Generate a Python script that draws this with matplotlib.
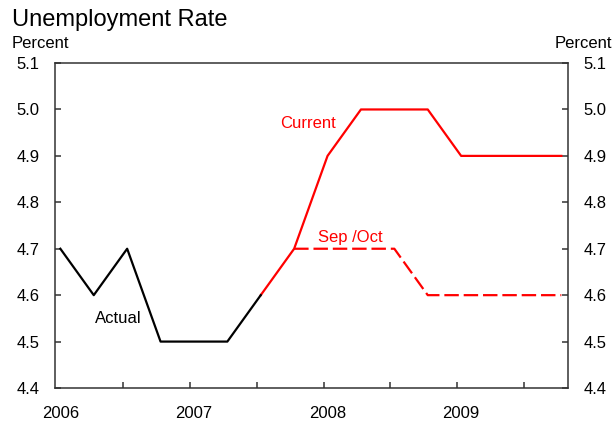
import numpy as np
import matplotlib
matplotlib.use("Agg")
import matplotlib.pyplot as plt

plt.rcParams["font.family"] = ["Liberation Sans", "DejaVu Sans"]

# quarterly data, 2006Q1 .. 2009Q4
years = [2006, 2007, 2008, 2009]
actual = [4.7, 4.6, 4.7, 4.5, 4.5, 4.5, 4.6]                      # 2006Q1 - 2007Q3
current = [4.6, 4.7, 4.9, 5.0, 5.0, 5.0, 4.9, 4.9, 4.9, 4.9]      # 2007Q3 - 2009Q4
sep_oct = [4.7, 4.7, 4.7, 4.7, 4.6, 4.6, 4.6, 4.6, 4.6]           # 2007Q4 - 2009Q4
yticks = [4.4, 4.5, 4.6, 4.7, 4.8, 4.9, 5.0, 5.1]

RED = "#ff0000"

# quarter positions on a fractional-year axis
qpos = 2006.03 + 0.25 * np.arange(16)
x_actual = qpos[:len(actual)]
x_current = qpos[len(actual) - 1:]
x_sep = qpos[len(actual):]

fig = plt.figure(figsize=(6.14, 4.26), dpi=100)
ax = fig.add_axes([0.0896, 0.0892, 0.8355, 0.7628])

ax.plot(x_sep, sep_oct, color=RED, lw=1.6, dashes=(6.5, 2.2))
ax.plot(x_current, current, color=RED, lw=1.6)
ax.plot(x_actual, actual, color="black", lw=1.6)

ax.set_xlim(2005.99, 2009.83)
ax.set_ylim(4.4, 5.1)

# tick marks at years / half years, labels centred on Q1
ax.set_xticks([2006.5, 2007, 2007.5, 2008, 2008.5, 2009, 2009.5])
ax.set_xticklabels([])
ax.set_xticks([y + 0.03 for y in years], minor=True)
ax.set_xticklabels([str(y) for y in years], minor=True, fontsize=12)
ax.tick_params(axis="x", which="major", direction="in", length=4, width=1.1, color="#333333")
ax.tick_params(axis="x", which="minor", length=0, pad=13)

ax.set_yticks(yticks)
ax.set_yticklabels([f"{v:.1f}" for v in yticks], fontsize=12)
ax.tick_params(axis="y", direction="in", length=4, width=1.1, color="#333333",
               left=True, right=True, labelleft=True, labelright=True, pad=11)

for s in ax.spines.values():
    s.set_color("#333333")
    s.set_linewidth(1.1)

ax.text(2007.88, 4.969, "Current", color=RED, fontsize=12, ha="center", va="center")
ax.text(2008.20, 4.725, "Sep /Oct", color=RED, fontsize=12, ha="center", va="center")
ax.text(2006.462, 4.549, "Actual", color="black", fontsize=12, ha="center", va="center")

fig.text(0.019, 0.939, "Unemployment Rate", fontsize=17, ha="left", va="baseline")
fig.text(0.019, 0.887, "Percent", fontsize=12, ha="left", va="baseline")
fig.text(0.997, 0.887, "Percent", fontsize=12, ha="right", va="baseline")

fig.savefig("out.png", dpi=100)
